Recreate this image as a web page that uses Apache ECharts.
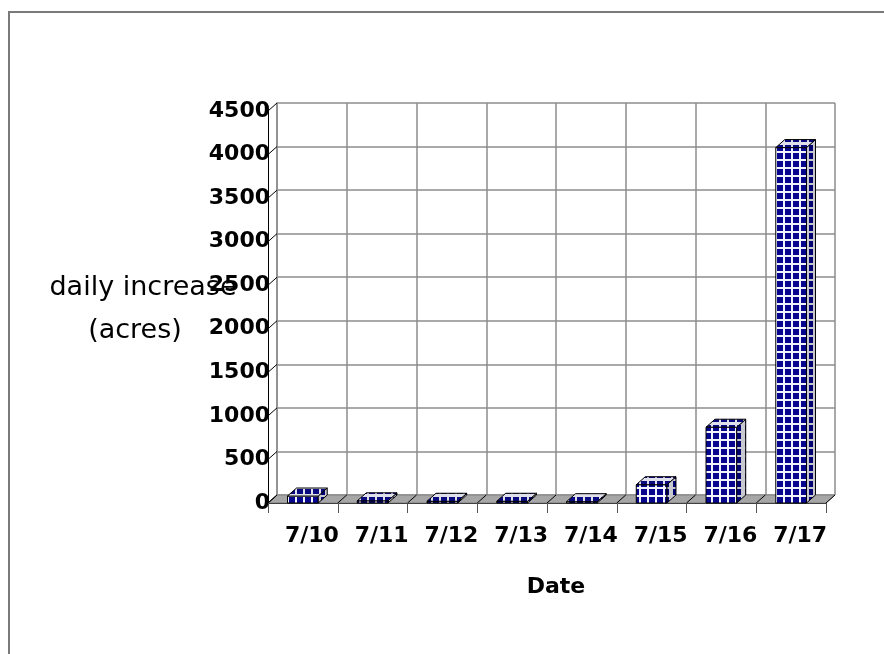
<!DOCTYPE html>
<html>
<head>
<meta charset="utf-8">
<script src="https://cdn.jsdelivr.net/npm/echarts@6/dist/echarts.min.js"></script>
<style>
  html, body { margin: 0; padding: 0; background: #fff; }
  #chart { width: 884px; height: 654px; }
</style>
</head>
<body>
<div id="chart"></div>
<script>
// data
var categories = ["7/10", "7/11", "7/12", "7/13", "7/14", "7/15", "7/16", "7/17"];
var acres = [80, 25, 20, 20, 15, 210, 870, 4080];
var yTicks = [0, 500, 1000, 1500, 2000, 2500, 3000, 3500, 4000, 4500];

// depth of the fake 3d
var DX = 9, DY = 8;

function makeTile(bg, fg, sw, sh) {
  var c = document.createElement("canvas");
  c.width = 8; c.height = 8;
  var g = c.getContext("2d");
  g.fillStyle = bg;
  g.fillRect(0, 0, 8, 8);
  g.fillStyle = fg;
  g.fillRect(1, 1, sw, sh);
  return { image: c, repeat: "repeat" };
}
var frontFill = makeTile("#f4f4ff", "#06068f", 6, 6);
var sideFill = makeTile("#c8c8d0", "#000070", 4, 6);
var topFill = makeTile("#e0e0ea", "#0a0a80", 6, 5);

var myChart = echarts.init(document.getElementById("chart"));

var font = "DejaVu Sans";

function renderBar(params, api) {
  var idx = api.value(0);
  var v = api.value(1);
  var base = api.coord([idx, 0]);
  var top = api.coord([idx, v]);
  var w = api.size([1, 0])[0] * 0.44;
  var x0 = base[0] - w / 2, x1 = base[0] + w / 2;
  var yb = base[1], yt = top[1];
  return {
    type: "group",
    children: [
      {
        type: "rect",
        shape: { x: x0, y: yt, width: w, height: yb - yt },
        style: { fill: frontFill, stroke: "#000", lineWidth: 1 }
      },
      {
        type: "polygon",
        shape: { points: [[x1, yt], [x1 + DX, yt - DY], [x1 + DX, yb - DY], [x1, yb]] },
        style: { fill: sideFill, stroke: "#000", lineWidth: 1 }
      },
      {
        type: "polygon",
        shape: { points: [[x0, yt], [x0 + DX, yt - DY], [x1 + DX, yt - DY], [x1, yt]] },
        style: { fill: topFill, stroke: "#000", lineWidth: 1 }
      }
    ]
  };
}

function renderFloor(params, api) {
  var cs = params.coordSys;
  var yb = cs.y + cs.height;
  var xl = cs.x, xr = cs.x + cs.width;
  var band = cs.width / categories.length;
  var children = [
    {
      type: "polygon",
      shape: { points: [[xl, yb], [xr, yb], [xr + DX, yb - DY], [xl + DX, yb - DY]] },
      style: { fill: "#a6a6a6", stroke: "#808080", lineWidth: 1 }
    }
  ];
  for (var i = 0; i <= categories.length; i++) {
    children.push({
      type: "line",
      shape: { x1: xl + i * band, y1: yb, x2: xl + i * band + DX, y2: yb - DY },
      style: { stroke: "#000", lineWidth: 1 }
    });
  }
  return { type: "group", children: children };
}

function renderYTick(params, api) {
  var p = api.coord([0, api.value(1)]);
  var x = params.coordSys.x;
  return {
    type: "line",
    shape: { x1: x, y1: p[1], x2: x + DX, y2: p[1] - DY },
    style: { stroke: "#000", lineWidth: 1 }
  };
}

var option = {
  backgroundColor: "#fff",
  animation: false,
  grid: [
    { left: 277, top: 103, width: 558, height: 392 },
    { left: 268, top: 111, width: 558, height: 392 }
  ],
  xAxis: [
    {
      gridIndex: 0,
      type: "category",
      data: categories,
      axisLine: { show: false },
      axisTick: { show: false },
      axisLabel: {
        interval: 0,
        margin: 30,
        color: "#000",
        fontFamily: font,
        fontWeight: "bold",
        fontSize: 22
      },
      splitLine: { show: true, interval: 0, lineStyle: { color: "#8c8c8c", width: 1.5 } }
    },
    {
      gridIndex: 1,
      type: "category",
      data: categories,
      axisLine: { show: true, lineStyle: { color: "#000", width: 1 } },
      axisTick: { show: true, interval: 0, length: 10, lineStyle: { color: "#555" } },
      axisLabel: { show: false },
      splitLine: { show: false }
    }
  ],
  yAxis: [
    {
      gridIndex: 0,
      type: "value",
      min: 0,
      max: 4500,
      interval: 500,
      axisLine: { show: true, lineStyle: { color: "#8c8c8c", width: 1.5 } },
      axisTick: { show: false },
      axisLabel: { show: false },
      splitLine: { show: true, lineStyle: { color: "#8c8c8c", width: 1.5 } }
    },
    {
      gridIndex: 1,
      type: "value",
      min: 0,
      max: 4500,
      interval: 500,
      axisLine: { show: true, lineStyle: { color: "#000", width: 1 } },
      axisTick: { show: false },
      axisLabel: {
        margin: -2,
        color: "#000",
        fontFamily: font,
        fontWeight: "bold",
        fontSize: 22,
        formatter: function(v) { return String(v); }
      },
      splitLine: { show: false }
    }
  ],
  graphic: [
    {
      type: "rect",
      shape: { x: 9, y: 12, width: 900, height: 700 },
      style: { fill: "none", stroke: "#7a7a7a", lineWidth: 2 }
    },
    {
      type: "text",
      x: 143,
      y: 288,
      style: {
        text: "daily increase",
        textAlign: "center",
        textVerticalAlign: "middle",
        fontFamily: font,
        fontSize: 27,
        fill: "#000"
      },
      z: 1
    },
    {
      type: "text",
      x: 135,
      y: 331,
      style: {
        text: "(acres)",
        textAlign: "center",
        textVerticalAlign: "middle",
        fontFamily: font,
        fontSize: 27,
        fill: "#000"
      }
    },
    {
      type: "text",
      x: 556,
      y: 587,
      style: {
        text: "Date",
        textAlign: "center",
        textVerticalAlign: "middle",
        fontFamily: font,
        fontWeight: "bold",
        fontSize: 22,
        fill: "#000"
      }
    }
  ],
  series: [
    {
      type: "custom",
      xAxisIndex: 1,
      yAxisIndex: 1,
      z: 2,
      renderItem: renderFloor,
      data: [[0, 0]],
      silent: true
    },
    {
      type: "custom",
      xAxisIndex: 1,
      yAxisIndex: 1,
      z: 3,
      renderItem: renderYTick,
      data: yTicks.map(function(v) { return [0, v]; }),
      silent: true
    },
    {
      type: "custom",
      name: "daily increase",
      xAxisIndex: 1,
      yAxisIndex: 1,
      z: 4,
      renderItem: renderBar,
      encode: { x: 0, y: 1 },
      data: acres.map(function(v, i) { return [i, v]; })
    }
  ]
};
myChart.setOption(option);
</script>
</body>
</html>
